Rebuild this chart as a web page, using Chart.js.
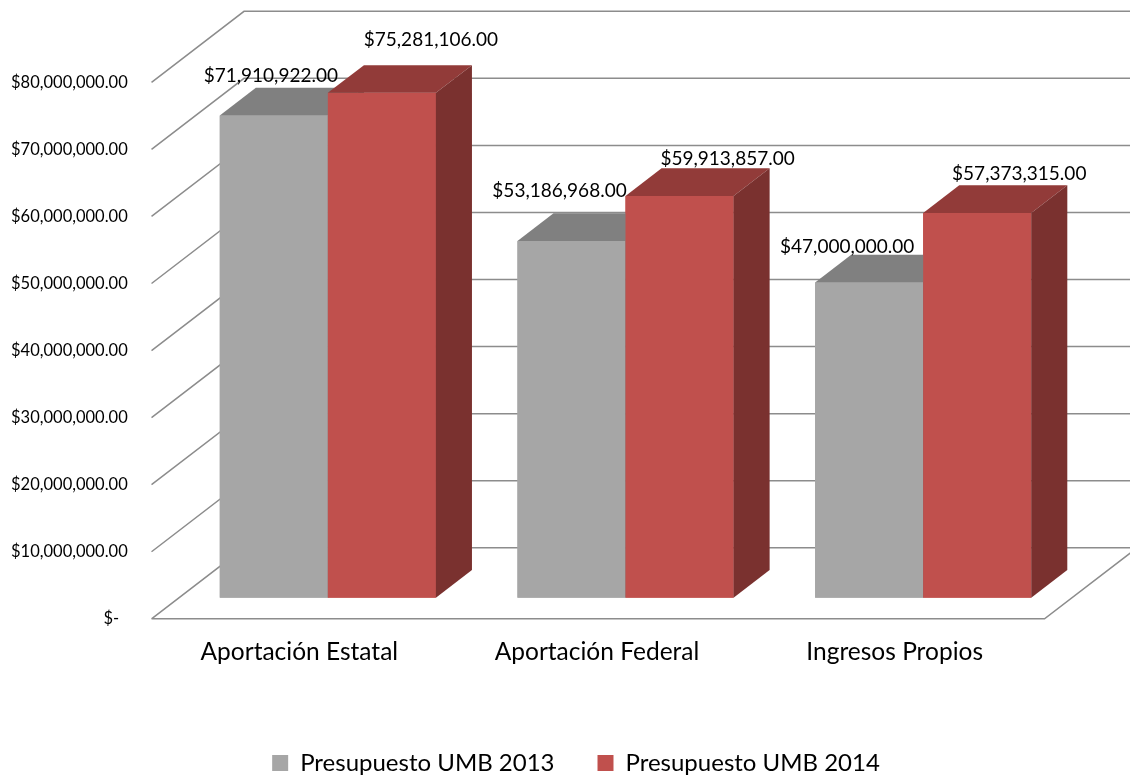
<!DOCTYPE html>
<html>
<head>
<meta charset="utf-8">
<script src="https://cdn.jsdelivr.net/npm/chart.js@4.4.1/dist/chart.umd.min.js"></script>
<style>
  html, body { margin: 0; padding: 0; background: #ffffff; }
  #wrap { width: 1130px; height: 777px; }
</style>
</head>
<body>
<div id="wrap"><canvas id="c" width="1130" height="777"></canvas></div>
<script>
// ---------- data ----------
const categories = ['Aportación Estatal', 'Aportación Federal', 'Ingresos Propios'];
const seriesNames = ['Presupuesto UMB 2013', 'Presupuesto UMB 2014'];
const values2013 = [71910922, 53186968, 47000000];
const values2014 = [75281106, 59913857, 57373315];
const yMin = 0;
const yMax = 80000000;
const yStep = 10000000;

// ---------- styling ----------
const FONT = 'Lato';
const faceColors = [
  { front: '#A6A6A6', top: '#808080', side: '#6F6F6F' },
  { front: '#C0504D', top: '#923B39', side: '#7A312F' }
];
// data-label nudges (px) relative to the centre of the bar's top face / its back edge
const labelNudgeX = [[-21, -30, -40], [31, 30, 24]];
const labelNudgeY = [[-6, -16, -2], [-19, -3, -5]];

// 3D geometry: full floor depth vector and depth fractions
const DEPTH = { dx: 92.5, dy: -71 };
const FRONT = 0.297;   // where the bars' front faces sit
const BAR = 0.39;      // bar depth fraction
const offs = f => ({ x: DEPTH.dx * (f - FRONT), y: DEPTH.dy * (f - FRONT) });

const money = v => '$' + Number(v).toLocaleString('en-US', { minimumFractionDigits: 2, maximumFractionDigits: 2 });

const wallsPlugin = {
  id: 'walls3d',
  afterLayout(chart) {
    // legend is centred under the plot (not under the whole canvas)
    if (chart.legend) chart.legend.left = 80;
  },
  beforeDatasetsDraw(chart) {
    const { ctx, chartArea: { left, right }, scales: { y } } = chart;
    const f = offs(0), b = offs(1);
    ctx.save();
    ctx.strokeStyle = '#8c8c8c';
    ctx.lineWidth = 1.5;
    y.ticks.forEach(t => {
      const py = y.getPixelForValue(t.value);
      ctx.beginPath();
      ctx.moveTo(left + f.x, py + f.y);
      ctx.lineTo(left + b.x, py + b.y);
      ctx.lineTo(chart.width + 20, py + b.y);
      if (t.value === yMin) {
        ctx.moveTo(left + f.x, py + f.y);
        ctx.lineTo(right + f.x, py + f.y);
        ctx.lineTo(right + b.x, py + b.y);
      }
      ctx.stroke();
    });
    ctx.restore();
  },
  afterDatasetsDraw(chart) {
    const { ctx } = chart;
    const d = offs(FRONT + BAR);
    ctx.save();
    // 3D faces, series in index order so the later series covers the earlier one's side
    chart.data.datasets.forEach((ds, di) => {
      const c = faceColors[di];
      chart.getDatasetMeta(di).data.forEach(bar => {
        const p = bar.getProps(['x', 'y', 'base', 'width'], true);
        const l = p.x - p.width / 2, r = p.x + p.width / 2;
        bar.draw(ctx);
        ctx.fillStyle = c.top;
        ctx.beginPath();
        ctx.moveTo(l, p.y); ctx.lineTo(r, p.y);
        ctx.lineTo(r + d.x, p.y + d.y); ctx.lineTo(l + d.x, p.y + d.y);
        ctx.closePath(); ctx.fill();
        ctx.fillStyle = c.side;
        ctx.beginPath();
        ctx.moveTo(r, p.y); ctx.lineTo(r + d.x, p.y + d.y);
        ctx.lineTo(r + d.x, p.base + d.y); ctx.lineTo(r, p.base);
        ctx.closePath(); ctx.fill();
      });
    });
    // data labels
    ctx.font = '19px ' + FONT;
    ctx.fillStyle = '#000';
    ctx.textAlign = 'center';
    ctx.textBaseline = 'alphabetic';
    chart.data.datasets.forEach((ds, di) => {
      chart.getDatasetMeta(di).data.forEach((bar, i) => {
        const p = bar.getProps(['x', 'y'], true);
        const cx = p.x + d.x / 2 + labelNudgeX[di][i];
        const cy = p.y + d.y + labelNudgeY[di][i];
        ctx.fillText(money(ds.data[i]), cx, cy);
      });
    });
    ctx.restore();
  }
};

new Chart(document.getElementById('c'), {
  type: 'bar',
  data: {
    labels: categories,
    datasets: [
      { label: seriesNames[0], data: values2013, backgroundColor: faceColors[0].front, borderWidth: 0 },
      { label: seriesNames[1], data: values2014, backgroundColor: faceColors[1].front, borderWidth: 0 }
    ]
  },
  options: {
    responsive: false,
    animation: false,
    devicePixelRatio: 1,
    layout: { padding: { top: 57.7, right: 58, bottom: -8, left: 0 } },
    datasets: { bar: { barPercentage: 1, categoryPercentage: 0.726 } },
    scales: {
      x: {
        grid: { display: false, drawTicks: false },
        border: { display: false },
        ticks: { color: '#000', font: { family: FONT, size: 24.5 }, padding: 40, labelOffset: -28.5 },
        afterFit(s) { s.height = 110.3; }
      },
      y: {
        min: yMin, max: yMax,
        grid: { display: false, drawTicks: false },
        border: { display: false },
        ticks: {
          stepSize: yStep,
          color: '#000',
          font: { family: FONT, size: 16.5 },
          padding: 51.3,
          labelOffset: 21.1,
          callback: v => v === 0 ? '$-  ' : money(v)
        },
        afterFit(s) { s.width = 179; }
      }
    },
    plugins: {
      tooltip: { enabled: false },
      legend: {
        position: 'bottom',
        labels: {
          boxWidth: 16, boxHeight: 16, padding: 43, color: '#000',
          font: { family: FONT, size: 24 }
        }
      }
    }
  },
  plugins: [wallsPlugin]
});
</script>
</body>
</html>
